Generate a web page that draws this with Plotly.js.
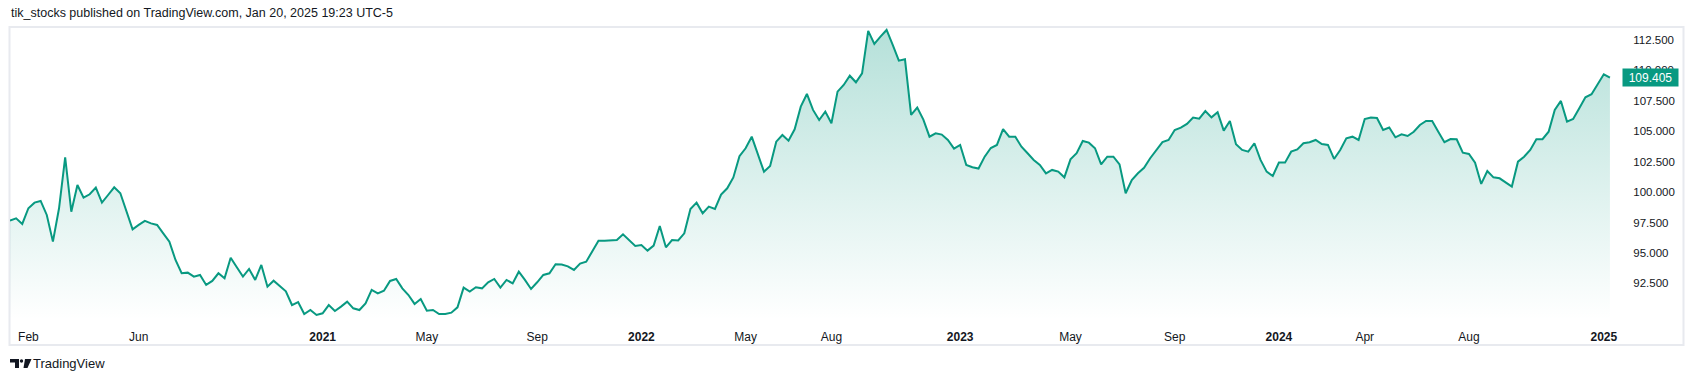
<!DOCTYPE html>
<html>
<head>
<meta charset="utf-8">
<script src="https://cdn.plot.ly/plotly-3.0.1.min.js"></script>
<style>
html,body{margin:0;padding:0;background:#ffffff;}
#chart{width:1694px;height:382px;}
</style>
</head>
<body>
<div id="chart"></div>
<script>
// ---- data (weekly closes) ----
const firstWeek = '2020-01-13';
const values = [
97.65, 97.84, 97.38, 98.67, 99.13, 99.27, 98.12, 95.93, 98.67, 102.86,
98.39, 100.58, 99.54, 99.82, 100.36, 99.13, 99.76, 100.39, 99.90, 98.39,
96.94, 97.30, 97.63, 97.43, 97.30, 96.61, 95.93, 94.42, 93.33, 93.38,
93.05, 93.19, 92.37, 92.70, 93.33, 92.91, 94.61, 93.82, 93.05, 93.68,
92.78, 94.01, 92.23, 92.72, 92.31, 91.85, 90.72, 90.97, 89.98, 90.31,
89.90, 90.04, 90.72, 90.23, 90.59, 91.00, 90.45, 90.31, 90.86, 91.96,
91.68, 91.90, 92.70, 92.86, 92.09, 91.54, 90.81, 91.22, 90.26, 90.31,
89.98, 89.98, 90.09, 90.53, 92.15, 91.82, 92.18, 92.09, 92.59, 92.86,
92.15, 92.78, 92.50, 93.46, 92.78, 92.04, 92.59, 93.19, 93.33, 94.07,
94.05, 93.90, 93.60, 94.12, 94.28, 95.10, 96.00, 96.00, 96.06, 96.06,
96.53, 96.06, 95.57, 95.65, 95.19, 95.60, 97.21, 95.46, 96.06, 96.03,
96.61, 98.61, 99.13, 98.26, 98.80, 98.62, 99.79, 100.31, 101.20, 102.95,
103.60, 104.55, 103.13, 101.68, 102.14, 104.14, 104.69, 104.22, 105.16, 107.02,
108.06, 106.75, 105.92, 106.61, 105.65, 108.25, 108.80, 109.56, 109.02, 109.76,
113.24, 112.17, 112.77, 113.32, 112.09, 110.80, 110.91, 106.34, 106.94, 105.95,
104.55, 104.83, 104.72, 104.28, 103.57, 103.87, 102.23, 102.04, 101.93, 102.91,
103.62, 103.87, 105.18, 104.55, 104.55, 103.73, 103.19, 102.64, 102.23, 101.54,
101.82, 101.68, 101.21, 102.69, 103.19, 104.20, 104.06, 103.60, 102.28, 102.91,
102.91, 102.28, 99.90, 100.99, 101.54, 102.00, 102.78, 103.40, 104.10, 104.28,
105.10, 105.29, 105.60, 106.12, 106.03, 106.66, 106.14, 106.56, 105.05, 105.84,
103.93, 103.46, 103.32, 104.01, 102.64, 101.68, 101.32, 102.42, 102.42, 103.32,
103.51, 104.01, 104.09, 104.28, 103.95, 103.87, 102.72, 103.46, 104.42, 104.55,
104.28, 106.00, 106.12, 106.09, 105.10, 105.30, 104.50, 104.75, 104.61, 104.96,
105.51, 105.84, 105.84, 104.96, 104.10, 104.36, 104.34, 103.24, 103.13, 102.42,
100.67, 101.73, 101.21, 101.13, 100.78, 100.45, 102.50, 102.91, 103.46, 104.34,
104.34, 104.96, 106.75, 107.49, 105.79, 106.00, 106.89, 107.79, 108.04, 108.86,
109.68, 109.405
];
const tickDates = ['2020-02-03','2020-06-08','2021-01-04','2021-05-03','2021-09-06','2022-01-03','2022-05-02','2022-08-08','2023-01-02','2023-05-08','2023-09-04','2024-01-01','2024-04-08','2024-08-05','2025-01-06'];
const tickLabels = ['Feb','Jun','<b>2021</b>','May','Sep','<b>2022</b>','May','Aug','<b>2023</b>','May','Sep','<b>2024</b>','Apr','Aug','<b>2025</b>'];
const yTicks = [92.5, 95, 97.5, 100, 102.5, 105, 107.5, 110, 112.5];
const headerText = 'tik_stocks published on TradingView.com, Jan 20, 2025 19:23 UTC-5';
const footerText = 'TradingView';

// ---- build ----
const t0 = Date.parse(firstWeek + 'T00:00:00Z');
const dates = values.map((v, i) => new Date(t0 + i * 7 * 86400000).toISOString().slice(0, 10));
const last = values[values.length - 1];

const W = 1694, H = 382;
const M = {l: 10, r: 74, t: 28, b: 62};
const PW = W - M.l - M.r, PH = H - M.t - M.b;
const px = x => (x - M.l) / PW;
const py = y => (H - M.b - y) / PH;

const FONT = 'Liberation Sans, Arial, sans-serif';
const TEAL = '#089981';
const TXT = '#131722';

const trace = {
  x: dates, y: values, type: 'scatter', mode: 'lines',
  line: {color: TEAL, width: 2},
  fill: 'tozeroy',
  fillgradient: {type: 'vertical', start: 89.5, stop: 113.4,
    colorscale: [[0, 'rgba(8,153,129,0)'], [1, 'rgba(8,153,129,0.30)']]},
  hoverinfo: 'skip'
};

function P(pts) { return pts.map((p, k) => (k ? 'L' : 'M') + px(p[0]) + ',' + py(p[1])).join(' ') + ' Z'; }

const layout = {
  width: W, height: H, margin: M,
  paper_bgcolor: '#ffffff', plot_bgcolor: '#ffffff',
  showlegend: false,
  font: {family: FONT, color: TXT, size: 12},
  xaxis: {
    type: 'date', range: ['2020-01-13', '2025-01-24 12:00'],
    showgrid: false, zeroline: false, showline: false,
    tickmode: 'array', tickvals: tickDates, ticktext: tickLabels,
    ticks: 'outside', ticklen: 6, tickcolor: 'rgba(0,0,0,0)',
    tickfont: {family: FONT, size: 12, color: TXT}, fixedrange: true
  },
  yaxis: {
    side: 'right', range: [89.49, 113.48],
    showgrid: false, zeroline: false, showline: false,
    tickmode: 'array', tickvals: yTicks, ticktext: yTicks.map(v => v.toFixed(3)),
    ticks: 'outside', ticklen: 10, tickcolor: 'rgba(0,0,0,0)',
    tickfont: {family: FONT, size: 11.5, color: TXT}, fixedrange: true
  },
  shapes: [
    {type: 'rect', xref: 'paper', yref: 'paper', x0: px(9.5), x1: px(1683.5), y0: py(345), y1: py(27),
     line: {color: '#E8EAEF', width: 2}, fillcolor: 'rgba(0,0,0,0)', layer: 'below'},
    {type: 'path', xref: 'paper', yref: 'paper', path: P([[10,359],[19,359],[19,368],[15,368],[15,362.5],[10,362.5]]),
     fillcolor: TXT, line: {width: 0}},
    {type: 'circle', xref: 'paper', yref: 'paper', x0: px(19.8), x1: px(23.2), y0: py(362.7), y1: py(359.3),
     fillcolor: TXT, line: {width: 0}},
    {type: 'path', xref: 'paper', yref: 'paper', path: P([[25,359],[31.5,359],[27.5,368],[23.5,368]]),
     fillcolor: TXT, line: {width: 0}}
  ],
  annotations: [
    {xref: 'paper', yref: 'paper', x: px(9), y: py(13), xanchor: 'left', yanchor: 'middle',
     text: headerText, showarrow: false, font: {family: FONT, size: 12.5, color: TXT}},
    {xref: 'paper', yref: 'paper', x: px(31), y: py(363.5), xanchor: 'left', yanchor: 'middle',
     text: footerText, showarrow: false, font: {family: FONT, size: 13, color: TXT}},
    {xref: 'paper', yref: 'y', x: px(1622), y: last, xanchor: 'left', yanchor: 'middle',
     text: last.toFixed(3), showarrow: false, bgcolor: TEAL, width: 53, height: 15, borderpad: 1,
     font: {family: FONT, size: 12, color: '#ffffff'}}
  ]
};

Plotly.newPlot('chart', [trace], layout, {displayModeBar: false, staticPlot: true});
</script>
</body>
</html>
